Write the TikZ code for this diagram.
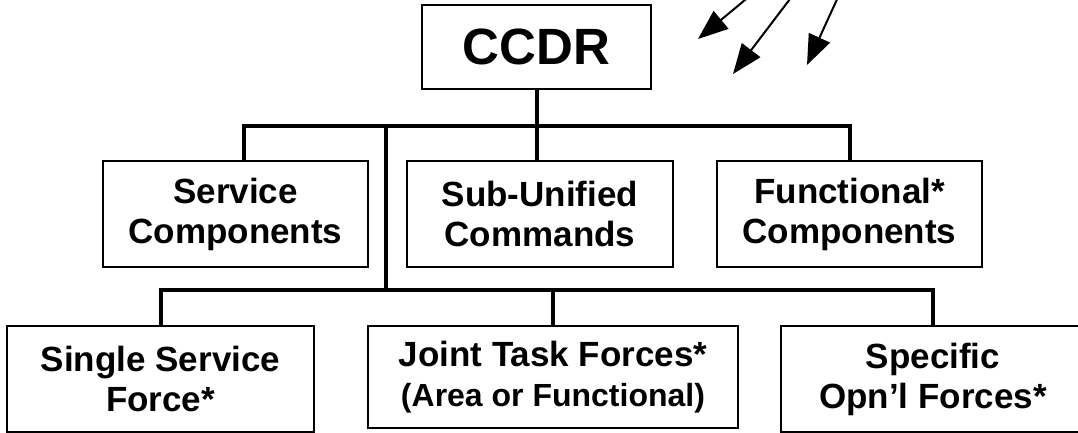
\documentclass[tikz,border=0pt]{standalone}
\usepackage{fontspec}
\setmainfont{Liberation Sans}
\usetikzlibrary{arrows.meta, positioning, calc}

\begin{document}
\begin{tikzpicture}[x=1pt,y=-1pt,
    unitbox/.style={rectangle, draw, line width=2pt, align=center, inner sep=0pt,
      font=\fontsize{35}{40}\selectfont\bfseries},
    link/.style={line width=4pt},
    hint/.style={line width=2pt, -{Triangle[length=30pt, width=23pt]}}]
  \useasboundingbox (0,0) rectangle (1078,433);

  \node (ccdr) [unitbox, minimum width=229pt, minimum height=84pt,
    font=\fontsize{51}{56}\selectfont\bfseries] at (536.5,47) {CCDR};

  \node (serv) [unitbox, minimum width=265pt, minimum height=106pt] at (235.5,214) {Service\\Components};
  \node (sub) [unitbox, minimum width=266pt, minimum height=106pt] at (540,214) {Sub-Unified\\Commands};
  \node (func) [unitbox, minimum width=265pt, minimum height=106pt] at (849.5,214) {Functional*\\Components};

  \node (single) [unitbox, minimum width=307pt, minimum height=106pt] at (160.5,379) {Single Service\\Force*};
  \node (joint) [unitbox, minimum width=370pt, minimum height=102pt] at (553,377)
    {Joint Task Forces*\\{\fontsize{32}{37}\selectfont(Area or Functional)}};
  \node (spec) [unitbox, minimum width=304pt, minimum height=106pt] at (933,379) {Specific\\Opn’l Forces*};

  \coordinate (t1) at (386,126);
  \coordinate (t2) at (386,290);

  \draw[link] ([xshift=8pt]serv.north) |- (t1) -| (func.north);
  \draw[link] (ccdr.south) -- (ccdr.south |- sub.north);
  \draw[link] (t1) -- (t2);
  \draw[link] (single.north) |- (t2) -| (spec.north);
  \draw[link] (joint.north) -- (joint.north |- t2);

  \coordinate (a1) at (751,-5);
  \coordinate (a2) at (793,-5);
  \coordinate (a3) at (839,-5);
  \coordinate (b1) at (698,39);
  \coordinate (b2) at (733,74);
  \coordinate (b3) at (807,65);
  \draw[hint] (a1) -- (b1);
  \draw[hint] (a2) -- (b2);
  \draw[hint] (a3) -- (b3);
\end{tikzpicture}
\end{document}
